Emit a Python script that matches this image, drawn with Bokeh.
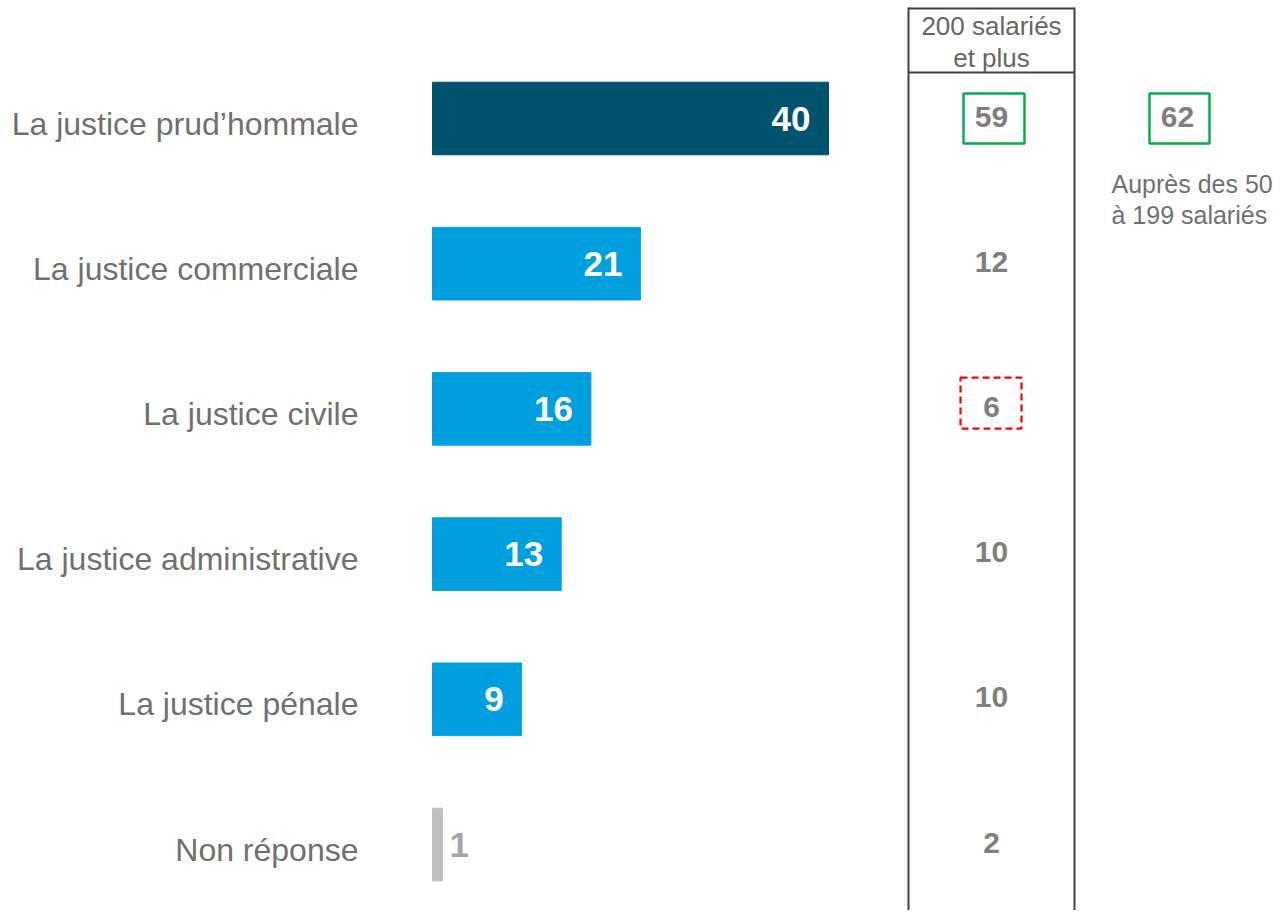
from bokeh.plotting import figure
from bokeh.models import Range1d, ColumnDataSource
from bokeh.core.properties import value
from bokeh.embed import file_html
from bokeh.resources import INLINE

# ---- data ----
categories = ["La justice prud\u2019hommale", "La justice commerciale", "La justice civile",
              "La justice administrative", "La justice pénale", "Non réponse"]
values_all = [40, 21, 16, 13, 9, 1]
values_200plus = [59, 12, 6, 10, 10, 2]
value_50_199_first = 62
header_lines = ["200 salariés", "et plus"]
note_lines = ["Auprès des 50", "à 199 salariés"]
bar_colors = ["#00536F", "#00A0DF", "#00A0DF", "#00A0DF", "#00A0DF", "#BFBFBF"]
highlight = ["green", None, "red", None, None, None]

W, H = 1278, 910
# screen-to-data helpers (layout only)
PX_PER_UNIT = 9.9
X0 = 432
def sx(s):
    return (s - X0) / PX_PER_UNIT

ROW_PX = 145.2
Y_TOP = 5 + 118 / ROW_PX
def sy(s):
    return Y_TOP - s / ROW_PX

p = figure(width=W, height=H, output_backend="svg", toolbar_location=None,
           x_range=Range1d(sx(0), sx(W)), y_range=Range1d(sy(H), Y_TOP),
           min_border=0, outline_line_color=None)
p.axis.visible = False
p.grid.visible = False
p.background_fill_color = "white"

n = len(categories)
ys = [n - 1 - i for i in range(n)]

src = ColumnDataSource(dict(y=ys, v=values_all, c=bar_colors))
p.hbar(y="y", left=0, right="v", height=0.5, color="c", source=src)

FONT = value("Liberation Sans")
GREY_TXT = "#707070"

# category labels
p.text(x=sx(358), y=ys, text=categories, text_align="right", text_baseline="middle",
       y_offset=5, text_font=FONT, text_font_size="32px", text_color=GREY_TXT)

# value labels inside bars (white), except small ones (grey, outside)
inside = [i for i in range(n) if values_all[i] >= 5]
outside = [i for i in range(n) if values_all[i] < 5]
p.text(x=[values_all[i] for i in inside], y=[ys[i] for i in inside],
       text=[str(values_all[i]) for i in inside], x_offset=-18,
       text_align="right", text_baseline="middle", text_font=FONT,
       text_font_size="35px", text_font_style="bold", text_color="white")
p.text(x=[values_all[i] for i in outside], y=[ys[i] for i in outside],
       text=[str(values_all[i]) for i in outside], x_offset=7,
       text_align="left", text_baseline="middle", text_font=FONT,
       text_font_size="35px", text_font_style="bold", text_color="#A6A6A6")

# column for 200 salariés et plus
COL_L, COL_R, COL_C = sx(908), sx(1074), sx(991)
p.segment(x0=[COL_L, COL_R, COL_L, COL_L], x1=[COL_L, COL_R, COL_R, COL_R],
          y0=[sy(7), sy(7), sy(8), sy(72)], y1=[sy(H + 5), sy(H + 5), sy(8), sy(72)],
          line_color="#404040", line_width=2)
p.text(x=[COL_C, COL_C], y=[sy(25), sy(57)], text=header_lines, text_align="center",
       text_baseline="middle", text_font=FONT, text_font_size="26px", text_color="#666666")

p.text(x=[COL_C] * n, y=ys, text=[str(v) for v in values_200plus], text_align="center",
       text_baseline="middle", y_offset=-2, text_font=FONT, text_font_size="30px",
       text_font_style="bold", text_color="#7F7F7F")

# highlight boxes
g = [i for i in range(n) if highlight[i] == "green"]
r = [i for i in range(n) if highlight[i] == "red"]
p.rect(x=[sx(993.5)] * len(g), y=[ys[i] for i in g], width=61, height=50,
       width_units="screen", height_units="screen", fill_color=None,
       line_color="#00B050", line_width=2.5)
p.rect(x=[sx(990.5)] * len(r), y=[ys[i] + 0.04 for i in r], width=61, height=51,
       width_units="screen", height_units="screen", fill_color=None,
       line_color="#FF0000", line_width=2.2, line_dash="7 4")

# 50-199 side value
p.rect(x=[sx(1179)], y=[ys[0]], width=60, height=50, width_units="screen",
       height_units="screen", fill_color=None, line_color="#00B050", line_width=2.5)
p.text(x=[sx(1177)], y=[ys[0]], text=[str(value_50_199_first)], text_align="center",
       text_baseline="middle", y_offset=-2, text_font=FONT, text_font_size="30px",
       text_font_style="bold", text_color="#7F7F7F")
p.text(x=[sx(1111)] * 2, y=[sy(183), sy(214)], text=note_lines, text_align="left",
       text_baseline="middle", text_font=FONT, text_font_size="25px", text_color="#707070")

open("out.html", "w").write(file_html(p, INLINE))
